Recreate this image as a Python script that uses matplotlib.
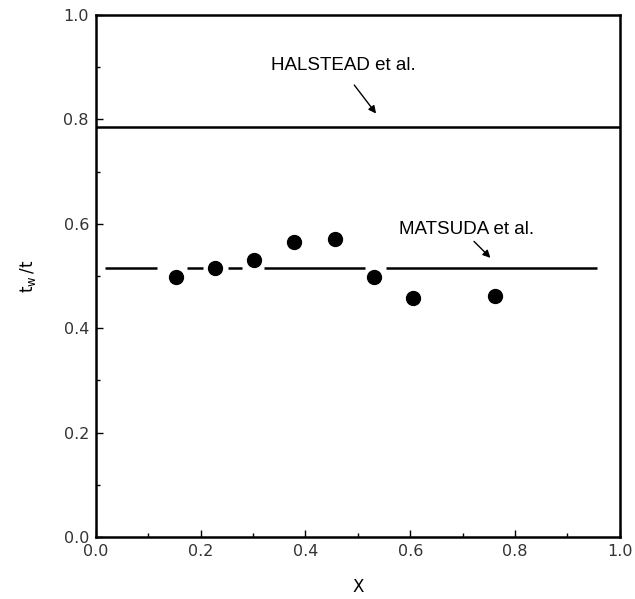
import matplotlib as mpl
import matplotlib.pyplot as plt

mpl.rcParams['font.family'] = 'DejaVu Sans'

# measured points
x_pts = [0.152, 0.228, 0.302, 0.378, 0.456, 0.531, 0.605, 0.762]
y_pts = [0.498, 0.515, 0.531, 0.566, 0.570, 0.498, 0.457, 0.462]

# HALSTEAD et al. level
halstead_y = 0.785
halstead_x = [0.0, 1.0]

# MATSUDA et al. level, drawn in pieces (broken around the dots)
matsuda_y = 0.515
matsuda_segments = [(0.018, 0.116), (0.174, 0.204), (0.252, 0.279),
                    (0.321, 0.513), (0.553, 0.956)]

fig = plt.figure(figsize=(6.35, 5.99), dpi=100)
ax = fig.add_axes([0.151, 0.1035, 0.825, 0.8715])

ax.plot(halstead_x, [halstead_y, halstead_y], color='black', lw=1.8)
for x0, x1 in matsuda_segments:
    ax.plot([x0, x1], [matsuda_y, matsuda_y], color='black', lw=1.8,
            solid_capstyle='butt')
ax.plot(x_pts, y_pts, 'o', color='black', ms=10, zorder=3)

ax.text(0.335, 0.903, 'HALSTEAD et al.', family='Liberation Sans',
        fontsize=13.5, va='center')
ax.annotate('', xy=(0.538, 0.807), xytext=(0.490, 0.870),
            arrowprops=dict(arrowstyle='-|>', color='black', lw=1.0,
                            mutation_scale=11))
ax.text(0.578, 0.590, 'MATSUDA et al.', family='Liberation Sans',
        fontsize=13.5, va='center')
ax.annotate('', xy=(0.757, 0.531), xytext=(0.718, 0.570),
            arrowprops=dict(arrowstyle='-|>', color='black', lw=1.0,
                            mutation_scale=11))

ax.set_xlim(0, 1)
ax.set_ylim(0, 1)
ax.set_xticks([0, 0.2, 0.4, 0.6, 0.8, 1.0])
ax.set_yticks([0, 0.2, 0.4, 0.6, 0.8, 1.0])
ax.set_xticks([0.1, 0.3, 0.5, 0.7, 0.9], minor=True)
ax.set_yticks([0.1, 0.3, 0.5, 0.7, 0.9], minor=True)
ax.xaxis.set_major_formatter(mpl.ticker.FormatStrFormatter('%.1f'))
ax.yaxis.set_major_formatter(mpl.ticker.FormatStrFormatter('%.1f'))
ax.tick_params(which='both', direction='in', top=False, right=False,
               labelsize=11.5, labelcolor='#333333', width=1.0)
ax.tick_params(which='major', length=5, pad=5)
ax.tick_params(which='minor', length=3)
for s in ax.spines.values():
    s.set_linewidth(1.8)

ax.set_xlabel('X', fontsize=12, labelpad=14)
ax.set_ylabel(r'$\mathregular{t_w\,/t}$', fontsize=12, labelpad=18)

fig.savefig('out.png', dpi=100)
